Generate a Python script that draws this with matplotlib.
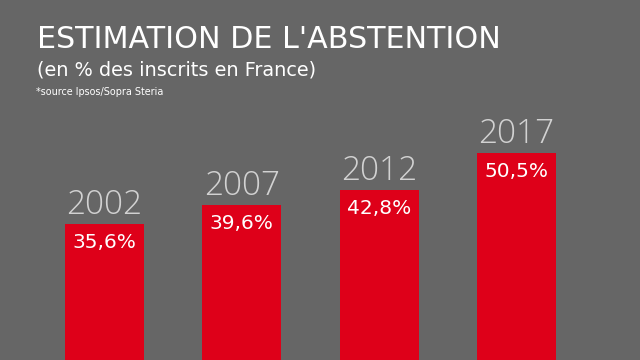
import matplotlib
matplotlib.use('Agg')
import matplotlib.pyplot as plt

# Données (Ipsos/Sopra Steria)
years = ['2002', '2007', '2012', '2017']
abstention = [35.6, 39.6, 42.8, 50.5]
labels = ['35,6%', '39,6%', '42,8%', '50,5%']

BG = '#666666'
RED = '#DE0019'

plt.rcParams['font.family'] = ['DejaVu Sans']

fig = plt.figure(figsize=(6.4, 3.6), dpi=100, facecolor=BG)
ax = fig.add_axes([0, 0, 1, 1])
ax.set_facecolor(BG)

x = list(range(len(years)))
ax.bar(x, abstention, width=0.575, color=RED, bottom=0)

# échelle : bas de l'image ~7, haut ~82.6
ax.set_ylim(7.1, 82.6)
ax.set_xlim(-0.761, 3.90)
ax.axis('off')

for xi, v, yr, lab in zip(x, abstention, years, labels):
    ax.text(xi, v + 2.1, yr, ha='center', va='baseline', fontsize=24,
            color='#d2d2d2', fontweight='light', family=['Open Sans'])
    ax.text(xi, v - 5.1, lab, ha='center', va='baseline', fontsize=14.5,
            color='white')

# titres
fig.text(37 / 640, 1 - 48 / 360, "ESTIMATION DE L'ABSTENTION", ha='left',
         va='baseline', fontsize=21.7, color='white')
fig.text(37 / 640, 1 - 75 / 360, '(en % des inscrits en France)', ha='left',
         va='baseline', fontsize=13.9, color='white')
fig.text(36 / 640, 1 - 95 / 360, '*source Ipsos/Sopra Steria', ha='left',
         va='baseline', fontsize=6.9, color='white')

plt.savefig('out.png', dpi=100, facecolor=BG)
plt.close()
